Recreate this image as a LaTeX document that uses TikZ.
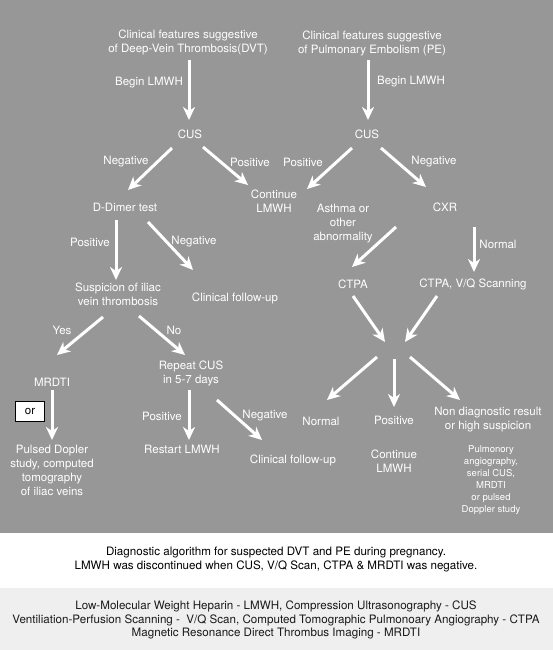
\documentclass[tikz,border=0pt]{standalone}
\usepackage{fontspec}
\setmainfont{TeX Gyre Heros}
\usetikzlibrary{arrows.meta,calc}
\definecolor{panel}{RGB}{151,151,151}
\definecolor{legendbg}{RGB}{239,239,239}
\begin{document}
\begin{tikzpicture}[x=1pt,y=-1pt,
  txt/.style={text=white,font=\fontsize{11.5}{14}\selectfont,align=center,inner sep=1pt},
  small/.style={text=white,font=\fontsize{9.5}{12}\selectfont,align=center,inner sep=1pt},
  arr/.style={draw=white,line width=3pt,-{Stealth[length=13pt,width=12pt,inset=4pt]}}]
\useasboundingbox (0,0) rectangle (553,650);
\fill[panel] (0,0) rectangle (553,533);
\fill[white] (0,533) rectangle (553,588);
\fill[legendbg] (0,588) rectangle (553,650);
% DVT branch
\node[txt] (dvt) at (188,42) {Clinical features suggestive\\of Deep-Vein Thrombosis(DVT)};
\node[txt] (cusL) at (190,134) {CUS};
\node[txt] (ddim) at (125,207) {D-Dimer test};
\node[txt] (contM) at (274,201) {Continue\\LMWH};
\node[txt] (susp) at (118,294) {Suspicion of iliac\\vein thrombosis};
\node[txt] (follow1) at (235,298) {Clinical follow-up};
\node[txt] (mrdti) at (52,382) {MRDTI};
\node[txt] (repeat) at (191,373) {Repeat CUS\\in 5-7 days};
\node[txt] (pulsed) at (52,470) {Pulsed Dopler\\study, computed\\tomography\\of iliac veins};
\node[txt] (restart) at (182,449) {Restart LMWH};
\node[txt] (follow2) at (293,460) {Clinical follow-up};
\node[draw=black,fill=white,line width=.8pt,minimum width=29pt,minimum height=20pt,font=\fontsize{11.5}{14}\selectfont] (orbox) at (30,411) {or};
% PE branch
\node[txt] (pe) at (372,43) {Clinical features suggestive\\of Pulmonary Embolism (PE)};
\node[txt] (cusR) at (367,134) {CUS};
\node[txt] (cxr) at (445,207) {CXR};
\node[txt] (ctpa) at (353,284) {CTPA};
\node[txt] (ctpaVQ) at (473,284) {CTPA, V/Q Scanning};
\coordinate (hub) at (394,349);
\node[txt] (normalR) at (321,421) {Normal};
\node[txt] (positiveR) at (394,420) {Positive};
\node[txt] (nondiag) at (488,420) {Non diagnostic result\\or high suspicion};
\node[txt] (contR) at (394,461) {Continue\\LMWH};
\node[small] (pulm) at (491,480) {Pulmonory\\angiography,\\serial CUS,\\MRDTI\\or pulsed\\Doppler study};
% edge labels
\node[txt] (beginL) at (149,83) {Begin LMWH};
\node[txt] (beginR) at (411,82) {Begin LMWH};
\node[txt] (negL) at (126,162) {Negative};
\node[txt] (posL) at (250,162) {Positive};
\node[txt] (posR) at (303,162) {Positive};
\node[txt] (negR) at (434,162) {Negative};
\node[txt] (posD) at (90,242) {Positive};
\node[txt] (negD) at (194,242) {Negative};
\node[txt] (asthma) at (343,224) {Asthma or\\other\\abnormality};
\node[txt] (normalL) at (498,244) {Normal};
\node[txt] (yes) at (62,330) {Yes};
\node[txt] (no) at (174,330) {No};
\node[txt] (posRep) at (162,416) {Positive};
\node[txt] (negRep) at (265,416) {Negative};
% arrows
\draw[arr] ($(dvt)+(1,18)$) -- ($(cusL)+(-1,-14)$);
\draw[arr] ($(pe)+(-4,17)$) -- ($(cusR)+(1,-14)$);
\draw[arr] ($(cusL)+(-18,14)$) -- ($(ddim)+(3,-17)$);
\draw[arr] ($(cusL)+(13,13)$) -- ($(contM)+(-26,-16)$);
\draw[arr] ($(cusR)+(-15,14)$) -- ($(contM)+(33,-12)$);
\draw[arr] ($(cusR)+(14,14)$) -- ($(cxr)+(-19,-20)$);
\draw[arr] ($(cxr)+(-49,20)$) -- ($(ctpa)+(-1,-17)$);
\draw[arr] ($(cxr)+(29,20)$) -- ($(ctpaVQ)+(1,-12)$);
\draw[arr] ($(ctpa)+(0,12)$) -- ($(hub)+(-9,-7)$);
\draw[arr] ($(ctpaVQ)+(-36,12)$) -- ($(hub)+(11,-7)$);
\draw[arr] ($(hub)+(-17,8)$) -- ($(normalR)+(6,-21)$);
\draw[arr] ($(hub)+(0,10)$) -- ($(positiveR)+(0,-13)$);
\draw[arr] ($(hub)+(16,8)$) -- ($(nondiag)+(-28,-20)$);
\draw[arr] ($(ddim)+(-9,13)$) -- ($(susp)+(-2,-14)$);
\draw[arr] ($(ddim)+(23,15)$) -- ($(follow1)+(-42,-28)$);
\draw[arr] ($(susp)+(-15,23)$) -- ($(mrdti)+(5,-27)$);
\draw[arr] ($(susp)+(21,22)$) -- ($(repeat)+(-6,-18)$);
\draw[arr] ($(mrdti)+(0,8)$) -- ($(pulsed)+(0,-30)$);
\draw[arr] ($(repeat)+(-2,17)$) -- ($(restart)+(7,-9)$);
\draw[arr] ($(repeat)+(26,27)$) -- ($(follow2)+(-31,-20)$);
% caption and legend
\node[font=\fontsize{11.6}{14}\selectfont,align=center] (caption) at (276,560) {Diagnostic algorithm for suspected DVT and PE during pregnancy.\\LMWH was discontinued when CUS, V/Q Scan, CTPA \& MRDTI was negative.};
\node[font=\fontsize{11.6}{13.6}\selectfont,align=center,text=black!90] (legend) at (276,620) {Low-Molecular Weight Heparin - LMWH, Compression Ultrasonography - CUS\\Ventiliation-Perfusion Scanning - \ V/Q Scan, Computed Tomographic Pulmonoary Angiography - CTPA\\Magnetic Resonance Direct Thrombus Imaging - MRDTI};
\end{tikzpicture}
\end{document}
